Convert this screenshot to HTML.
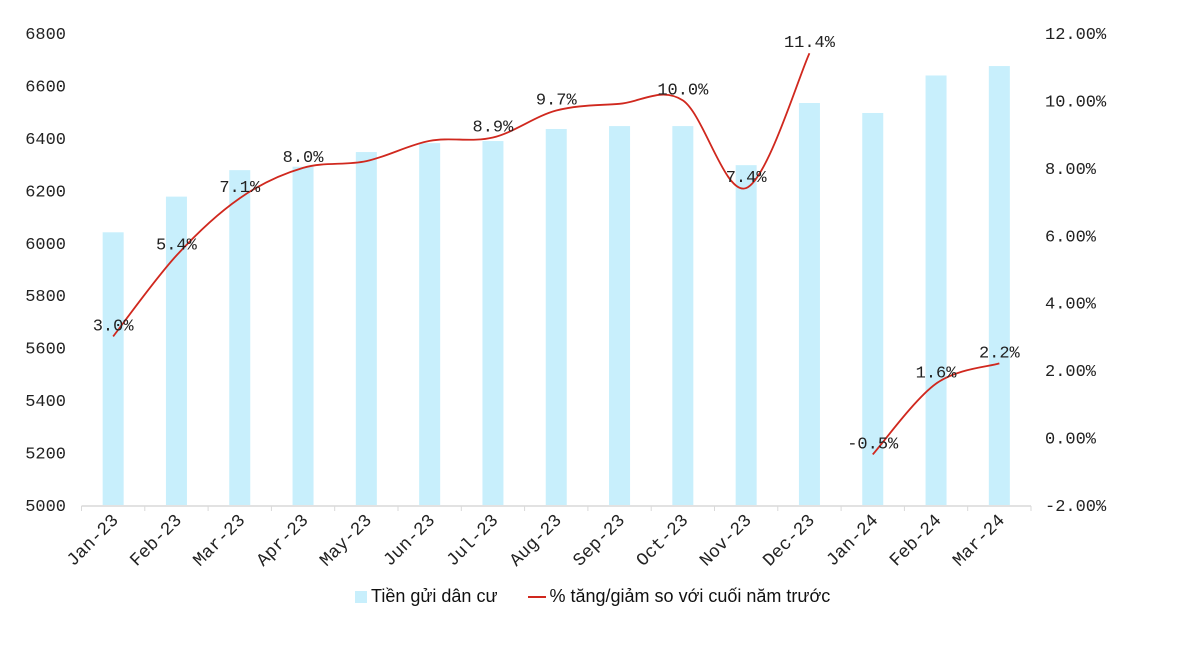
<!DOCTYPE html>
<html><head><meta charset="utf-8"><style>
body{margin:0;background:#fff;width:1200px;height:647px;overflow:hidden}
svg text{font-family:"Liberation Mono",monospace;fill:#222}
</style></head><body>
<svg id="c" width="1200" height="647"></svg>
<script>
const categories=["Jan-23","Feb-23","Mar-23","Apr-23","May-23","Jun-23","Jul-23","Aug-23","Sep-23","Oct-23","Nov-23","Dec-23","Jan-24","Feb-24","Mar-24"];
const deposits=[6040,6176,6277,6290,6346,6380,6388,6434,6445,6445,6296,6533,6495,6638,6674];
const growth=[3.0,5.4,7.1,8.0,8.2,8.8,8.9,9.7,9.9,10.0,7.4,11.4,-0.5,1.6,2.2];
const growthLabels=["3.0%","5.4%","7.1%","8.0%","","","8.9%","9.7%","","10.0%","7.4%","11.4%","-0.5%","1.6%","2.2%"];
const leftTicks=[5000,5200,5400,5600,5800,6000,6200,6400,6600,6800];
const rightTicks=[-2,0,2,4,6,8,10,12];
const segments=[[0,11],[12,14]];
const NS="http://www.w3.org/2000/svg",svg=document.getElementById('c');
const X0=81.5,X1=1031,Y0=505,Y1=33,step=(X1-X0)/categories.length;
const xc=i=>X0+step*(i+0.5);
const yl=v=>Y0-(v-5000)/1800*(Y0-Y1);
const yr=v=>Y0-(v+2)/14*(Y0-Y1);
function el(t,a,p){const e=document.createElementNS(NS,t);for(const k in a)e.setAttribute(k,a[k]);(p||svg).appendChild(e);return e;}
leftTicks.forEach(v=>{const t=el('text',{x:66,y:yl(v)+6,'text-anchor':'end','font-size':17});t.textContent=v;

});
rightTicks.forEach(v=>{const t=el('text',{x:1045,y:yr(v)+6,'font-size':17});t.textContent=v.toFixed(2)+'%';

});
deposits.forEach((v,i)=>{const r=el('rect',{x:xc(i)-10.5,y:yl(v),width:21,height:Y0-yl(v),fill:'#c8effc'});

});
const ax=el('line',{x1:X0,x2:X1,y1:Y0+1,y2:Y0+1,stroke:'#d9d9d9','stroke-width':1.5});


for(let i=0;i<=categories.length;i++){el('line',{x1:X0+step*i,x2:X0+step*i,y1:Y0+1,y2:Y0+6,stroke:'#d9d9d9'});}
categories.forEach((c,i)=>{const x=xc(i)+6,y=Y0+16;const t=el('text',{x:x,y:y,'text-anchor':'end','font-size':18,transform:`rotate(-45 ${x} ${y})`});t.textContent=c;

});
segments.forEach(([a,b])=>{const p=[];for(let i=a;i<=b;i++)p.push([xc(i),yr(growth[i])]);
let d=`M${p[0][0]},${p[0][1]}`;
for(let i=0;i<p.length-1;i++){const p0=p[i-1]||p[i],p1=p[i],p2=p[i+1],p3=p[i+2]||p2;
d+=` C${p1[0]+(p2[0]-p0[0])/6},${p1[1]+(p2[1]-p0[1])/6} ${p2[0]-(p3[0]-p1[0])/6},${p2[1]-(p3[1]-p1[1])/6} ${p2[0]},${p2[1]}`;}
const l=el('path',{d:d,fill:'none',stroke:'#d0281e','stroke-width':1.8});

});
growthLabels.forEach((s,i)=>{if(!s)return;const t=el('text',{x:xc(i),y:yr(growth[i])-6,'text-anchor':'middle','font-size':17});t.textContent=s;

});
</script>
<div style="position:absolute;left:355px;top:586px;font:18px 'Liberation Sans','DejaVu Sans',sans-serif;color:#111;display:flex;align-items:center">
<span style="width:12px;height:12px;background:#c8effc;margin-right:4px"></span><span>Tiền gửi dân cư</span>
<span style="width:18px;height:2px;background:#d0281e;margin:0 4px 0 30px"></span><span>% tăng/giảm so với cuối năm trước</span>
</div>
</body></html>
